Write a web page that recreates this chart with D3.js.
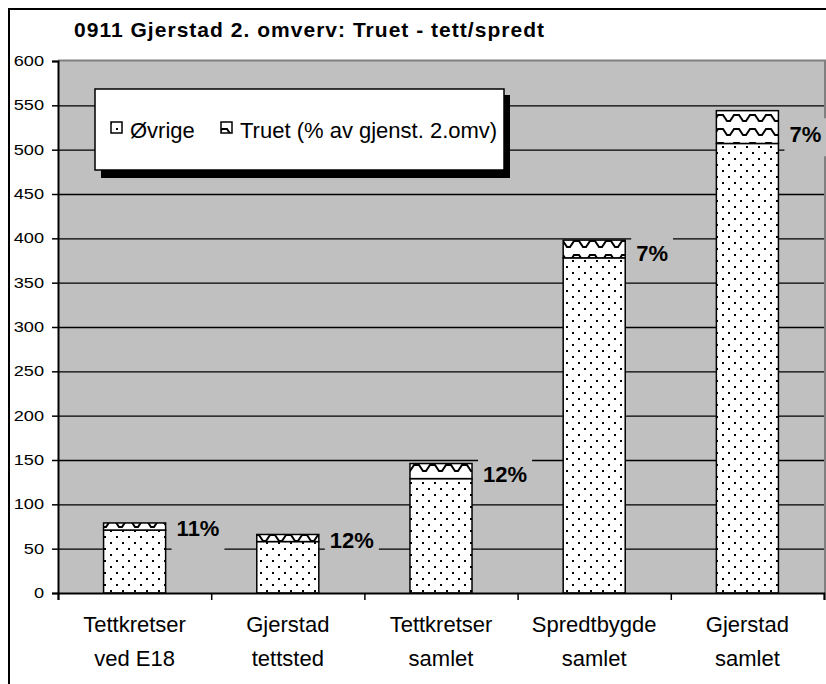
<!DOCTYPE html>
<html>
<head>
<meta charset="utf-8">
<script src="https://cdn.jsdelivr.net/npm/d3@7"></script>
<style>
  body { margin: 0; background: #fff; }
  svg { display: block; font-family: "Liberation Sans", Arial, sans-serif; }
</style>
</head>
<body>
<div id="chart"></div>
<script>
// values
var categories = [["Tettkretser", "ved E18"], ["Gjerstad", "tettsted"], ["Tettkretser", "samlet"],
                  ["Spredtbygde", "samlet"], ["Gjerstad", "samlet"]];
var ovrige = [71, 58, 129, 378, 507];
var truet = [8, 8, 17, 20, 37];
var pctLabels = ["11%", "12%", "12%", "7%", "7%"];
var yTicks = [0, 50, 100, 150, 200, 250, 300, 350, 400, 450, 500, 550, 600];

var W = 826, H = 684;
var plotL = 58, plotR = 824, plotT = 61, plotB = 593;
var plotBg = "#c0c0c0";

var svg = d3.select("#chart").append("svg")
    .attr("width", W)
    .attr("height", H);

var defs = svg.append("defs");

// sparse dots for Øvrige
var dots = defs.append("pattern")
    .attr("id", "dots")
    .attr("patternUnits", "userSpaceOnUse")
    .attr("width", 12).attr("height", 12);
dots.append("rect").attr("width", 12).attr("height", 12).attr("fill", "#fff");
dots.append("rect").attr("x", 2).attr("y", 2).attr("width", 2).attr("height", 2).attr("fill", "#000");
dots.append("rect").attr("x", 8).attr("y", 8).attr("width", 2).attr("height", 2).attr("fill", "#000");

// zigzag for Truet
var zig = defs.append("pattern")
    .attr("id", "zig")
    .attr("patternUnits", "userSpaceOnUse")
    .attr("width", 16).attr("height", 14);
zig.append("rect").attr("width", 16).attr("height", 14).attr("fill", "#fff");
zig.append("path")
    .attr("d", "M0,3 L3,3 L7,9 L10,9 L14,3 L16,3")
    .attr("fill", "none").attr("stroke", "#000").attr("stroke-width", 2);

// outer frame
svg.append("rect")
    .attr("x", 9).attr("y", 9)
    .attr("width", 840).attr("height", 700)
    .attr("fill", "#fff")
    .attr("stroke", "#000").attr("stroke-width", 2);

// title
svg.append("text")
    .attr("x", 74).attr("y", 37)
    .attr("font-size", 21).attr("font-weight", "bold")
    .attr("textLength", 470).attr("lengthAdjust", "spacing")
    .text("0911 Gjerstad 2. omverv: Truet - tett/spredt");

var y = d3.scaleLinear().domain([0, 600]).range([plotB, plotT]);
var x = d3.scaleBand().domain(d3.range(categories.length))
    .range([plotL, plotR]).paddingInner(0.595).paddingOuter(0.2975);
var xEdge = d3.scaleLinear().domain([0, categories.length]).range([plotL, plotR]);

// plot area
svg.append("rect")
    .attr("x", plotL).attr("y", plotT)
    .attr("width", plotR - plotL).attr("height", plotB - plotT)
    .attr("fill", plotBg);
svg.append("path")
    .attr("d", "M" + plotL + "," + (plotT - 0.5) + "H" + (plotR + 1) + "V" + plotB)
    .attr("fill", "none").attr("stroke", "#808080").attr("stroke-width", 2);

// gridlines
svg.append("g")
    .attr("transform", "translate(" + plotL + ",0)")
    .call(d3.axisLeft(y).tickValues(yTicks.filter(function(d) { return d > 0 && d < 600; }))
        .tickSize(-(plotR - plotL)).tickFormat(""))
    .call(function(g) {
        g.select(".domain").remove();
        g.selectAll("line").attr("stroke", "#000").attr("stroke-width", 1.3);
    });

// stacked bars
var bars = svg.append("g");
categories.forEach(function(c, i) {
    var x0 = x(i), bw = x.bandwidth();
    bars.append("rect")
        .attr("x", x0).attr("y", y(ovrige[i]))
        .attr("width", bw).attr("height", y(0) - y(ovrige[i]))
        .attr("fill", "url(#dots)")
        .attr("stroke", "#000").attr("stroke-width", 1.5);
    bars.append("rect")
        .attr("x", x0).attr("y", y(ovrige[i] + truet[i]))
        .attr("width", bw).attr("height", y(ovrige[i]) - y(ovrige[i] + truet[i]))
        .attr("fill", "url(#zig)")
        .attr("stroke", "#000").attr("stroke-width", 1.5);
});

// percent labels on grey boxes
var labels = svg.append("g");
categories.forEach(function(c, i) {
    var yt = y(ovrige[i] + truet[i]), yd = y(ovrige[i]);
    var cy = yt + 0.72 * (yd - yt);
    var lx = x(i) + x.bandwidth() + 11;
    var t = labels.append("text")
        .attr("x", lx).attr("y", cy + 8)
        .attr("font-size", 22).attr("font-weight", "bold")
        .text(pctLabels[i]);
    var bb = t.node().getBBox();
    labels.insert("rect", "text")
        .attr("x", bb.x - 5).attr("y", cy - 16)
        .attr("width", bb.width + 10).attr("height", 38)
        .attr("fill", plotBg);
});

// y axis
svg.append("g")
    .attr("transform", "translate(" + plotL + ",0)")
    .call(d3.axisLeft(y).tickValues(yTicks).tickSize(6).tickFormat(""))
    .call(function(g) {
        g.select(".domain").attr("stroke", "#000").attr("stroke-width", 2);
        g.selectAll("line").attr("stroke", "#000").attr("stroke-width", 1.5);
    });
var yl = svg.append("g");
yTicks.forEach(function(v) {
    yl.append("text")
        .attr("transform", "translate(44," + (y(v) + 5) + ") scale(1.3,1)")
        .attr("text-anchor", "end")
        .attr("font-size", 14)
        .text(v);
});

// x axis (ticks at category edges)
svg.append("g")
    .attr("transform", "translate(0," + plotB + ")")
    .call(d3.axisBottom(xEdge).tickValues(d3.range(categories.length + 1)).tickSize(7).tickFormat(""))
    .call(function(g) {
        g.select(".domain").attr("stroke", "#000").attr("stroke-width", 2);
        g.selectAll("line").attr("stroke", "#000").attr("stroke-width", 1.5);
    });
var xl = svg.append("g");
categories.forEach(function(c, i) {
    c.forEach(function(line, j) {
        xl.append("text")
            .attr("x", x(i) + x.bandwidth() / 2)
            .attr("y", 632 + j * 34)
            .attr("text-anchor", "middle")
            .attr("font-size", 22)
            .text(line);
    });
});

// legend with shadow
var lg = svg.append("g");
lg.append("rect").attr("x", 101).attr("y", 95).attr("width", 409).attr("height", 83).attr("fill", "#000");
lg.append("rect").attr("x", 95).attr("y", 89).attr("width", 409).attr("height", 81)
    .attr("fill", "#fff").attr("stroke", "#000").attr("stroke-width", 1.5);
var legendItems = [{ name: "Øvrige", fill: "url(#dots)", x: 111 },
                   { name: "Truet (% av gjenst. 2.omv)", fill: "url(#zig)", x: 221 }];
legendItems.forEach(function(d) {
    lg.append("rect")
        .attr("x", d.x).attr("y", 122).attr("width", 11).attr("height", 11)
        .attr("fill", d.fill).attr("stroke", "#000").attr("stroke-width", 1.5);
    lg.append("text")
        .attr("x", d.x + 19).attr("y", 138)
        .attr("font-size", 22)
        .text(d.name);
});
</script>
</body>
</html>
